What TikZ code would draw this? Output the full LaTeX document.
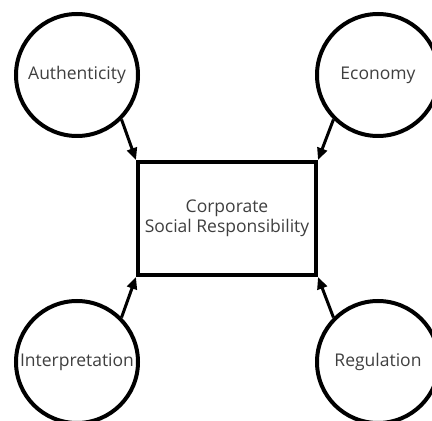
\documentclass[tikz,border=0pt]{standalone}
\usepackage{fontspec}
\setmainfont{Open Sans}
\usetikzlibrary{arrows.meta}
\definecolor{labelgray}{HTML}{3F3F3F}
\begin{document}
\begin{tikzpicture}[x=1pt,y=1pt,
  factor/.style={circle, draw=black, line width=4pt, minimum size=122pt,
    inner sep=0pt, text=labelgray, font=\fontsize{17.5}{20}\selectfont},
  core/.style={rectangle, draw=black, line width=4pt, minimum width=178pt,
    minimum height=113pt, inner sep=0pt, align=center, text=labelgray,
    font=\fontsize{17.5}{20.5}\selectfont},
  link/.style={line width=3pt, -{Triangle[length=12pt,width=10pt]}}]
  \useasboundingbox (0,0) rectangle (432,421);

  \node[core] (csr) at (227,202.5) {Corporate\\Social Responsibility};

  \node[factor] (auth) at (77,346) {Authenticity};
  \node[factor] (econ) at (378,346) {Economy};
  \node[factor] (interp) at (77,59) {Interpretation};
  \node[factor] (reg) at (378,59) {Regulation};

  \draw[link] (auth.south east) -- (csr.north west);
  \draw[link] (econ.south west) -- (csr.north east);
  \draw[link] (interp.north east) -- (csr.south west);
  \draw[link] (reg.north west) -- (csr.south east);
\end{tikzpicture}
\end{document}
